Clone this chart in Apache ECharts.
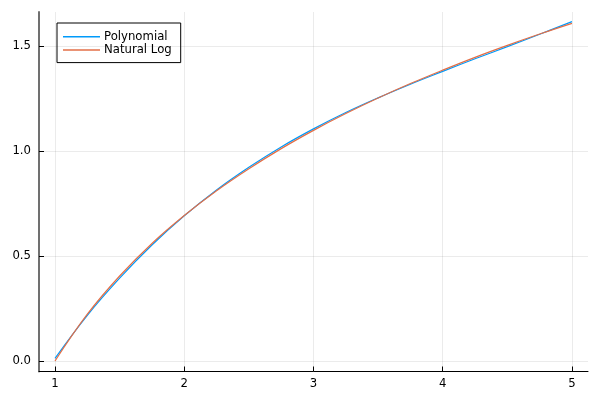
<!DOCTYPE html>
<html>
<head>
<meta charset="utf-8">
<script src="https://cdn.jsdelivr.net/npm/echarts@6/dist/echarts.min.js"></script>
<style>html,body{margin:0;padding:0;background:#fff}#c{width:600px;height:400px}</style>
</head>
<body>
<div id="c"></div>
<script>
const xs = [1, 1.25, 1.5, 1.75, 2, 2.25, 2.5, 2.75, 3, 3.25, 3.5, 3.75, 4, 4.25, 4.5, 4.75, 5];
const polynomial = [0.013, 0.218, 0.395, 0.553, 0.692, 0.815, 0.923, 1.020, 1.106, 1.184, 1.254, 1.319, 1.380, 1.440, 1.498, 1.557, 1.617];
const naturalLog = [0.000, 0.223, 0.405, 0.560, 0.693, 0.811, 0.916, 1.012, 1.099, 1.179, 1.253, 1.322, 1.386, 1.447, 1.504, 1.558, 1.609];
const xTicks = [1, 2, 3, 4, 5];
const yTicks = [0, 0.5, 1.0, 1.5];
const seriesNames = ['Polynomial', 'Natural Log'];

const font = 'DejaVu Sans';
const chart = echarts.init(document.getElementById('c'), null, {renderer: 'canvas'});
const mk = (arr) => xs.map((x, i) => [x, arr[i]]);
chart.setOption({
  animation: false,
  grid: {left: 39, right: 12, top: 12, bottom: 28.5, containLabel: false},
  legend: {
    orient: 'vertical', left: 57, top: 23,
    borderColor: '#000', borderWidth: 1,
    padding: [7, 9, 6, 6], itemGap: 0,
    itemWidth: 37, itemHeight: 1.5, icon: 'rect',
    textStyle: {fontFamily: font, fontSize: 11.7, lineHeight: 13.3, color: '#000', padding: [0, 0, 0, -1]},
    data: seriesNames
  },
  xAxis: {
    type: 'value', min: 0.876, max: 5.124,
    axisLine: {show: true, onZero: false, lineStyle: {color: '#000', width: 1}},
    axisTick: {show: true, inside: true, length: 5, customValues: xTicks, lineStyle: {color: '#000'}},
    axisLabel: {customValues: xTicks, fontFamily: font, fontSize: 11.7, color: '#000', margin: 6,
      formatter: v => String(v)},
    splitLine: {show: true, lineStyle: {color: 'rgba(0,0,0,0.08)', width: 1}}
  },
  yAxis: {
    type: 'value', min: -0.05, max: 1.663,
    axisLine: {show: true, onZero: false, lineStyle: {color: '#707070', width: 2}},
    axisTick: {show: true, inside: true, length: 5, customValues: yTicks, lineStyle: {color: '#000'}},
    axisLabel: {customValues: yTicks, fontFamily: font, fontSize: 11.7, color: '#000', margin: 8,
      formatter: v => v.toFixed(1)},
    splitLine: {show: true, lineStyle: {color: 'rgba(0,0,0,0.08)', width: 1}}
  },
  series: [
    {name: seriesNames[0], type: 'line', data: mk(polynomial), smooth: 0.4,
     showSymbol: false, symbol: 'none', color: '#009AFA', lineStyle: {width: 1.2, color: '#009AFA'}},
    {name: seriesNames[1], type: 'line', data: mk(naturalLog), smooth: 0.4,
     showSymbol: false, symbol: 'none', color: '#E36F47', lineStyle: {width: 1.2, color: '#E36F47'}}
  ]
});
</script>
</body>
</html>
